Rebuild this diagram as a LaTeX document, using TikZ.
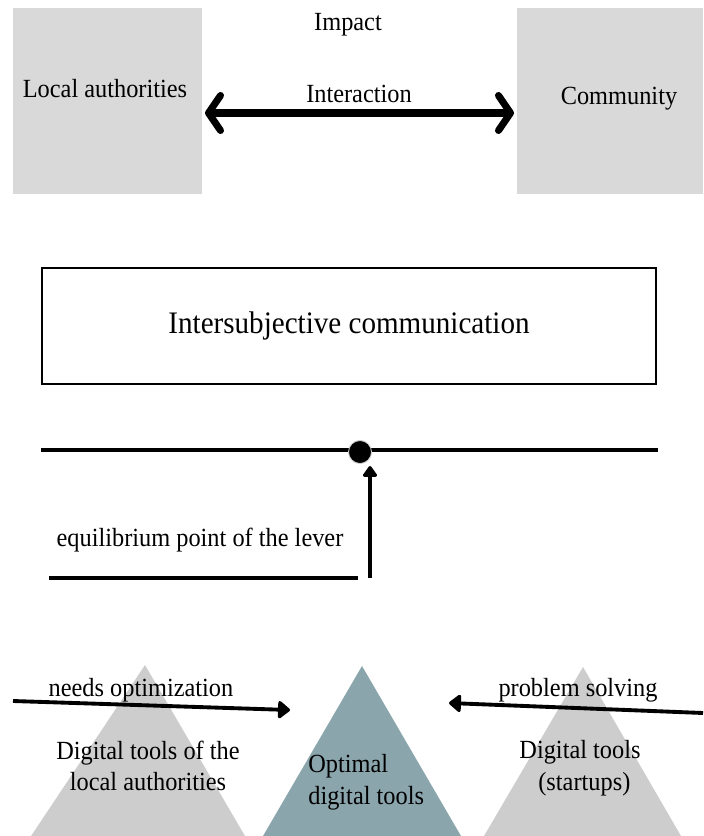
\documentclass[tikz,border=0pt]{standalone}
\usepackage{fontspec}
\setmainfont{Liberation Serif}
\newfontfamily\tmsfont[FakeStretch=0.93]{Liberation Serif}
\usetikzlibrary{arrows.meta}

\definecolor{boxgray}{RGB}{217,217,217}
\definecolor{trigray}{RGB}{205,205,205}
\definecolor{toolblue}{RGB}{139,165,173}

\tikzset{
	lbl/.style={font=\tmsfont\fontsize{14.9}{18}\selectfont, inner sep=0pt, align=center},
	actor/.style={fill=boxgray, draw=none, minimum width=3.78cm, minimum height=3.72cm, inner sep=0pt},
}

\begin{document}
\begin{tikzpicture}
	\useasboundingbox (0,0) rectangle (14.06,-16.72);
	% actors
	\node [actor] (auth) at (2.15,-2.02) {};
	\node [actor, minimum width=3.72cm] (comm) at (12.2,-2.02) {};
	\node [lbl] (authtxt) at (2.1,-1.78) {Local authorities};
	\node [lbl] (commtxt) at (12.38,-1.98) {Community};
	\node [lbl] (impact) at (6.96,-0.5) {Impact};
	\node [lbl] (inter) at (7.18,-1.88) {Interaction};
	\coordinate (ia) at (4.1,-2.26);
	\coordinate (ib) at (10.28,-2.26);
	\draw [line width=4pt, line cap=round, arrows={Straight Barb[round,length=2.4mm,width=7mm]-Straight Barb[round,length=2.4mm,width=7mm]}] (ia) -- (ib);
	% communication
	\node [draw, line width=1pt, minimum width=12.28cm, minimum height=2.32cm, inner sep=0pt] (isc) at (6.98,-6.52) {};
	\node [lbl, font=\tmsfont\fontsize{17.8}{21}\selectfont] (isctxt) at (isc.center) {Intersubjective communication};
	% lever
	\coordinate (la) at (0.82,-9.0);
	\coordinate (lb) at (13.16,-9.0);
	\draw [line width=2.4pt] (la) -- (lb);
	\node [circle, fill=black, draw=gray!40, line width=0.5pt, minimum size=0.46cm, inner sep=0pt] (pivot) at (7.2,-9.04) {};
	\coordinate (ga) at (0.98,-11.56);
	\coordinate (gb) at (7.16,-11.56);
	\draw [line width=2pt] (ga) -- (gb);
	\coordinate (up) at (7.4,-11.56);
	\draw [line width=2pt, arrows={-Triangle[round,length=2.4mm,width=3.2mm]}] (up) -- (7.4,-9.32);
	\node [lbl] (eq) at (4.0,-10.8) {equilibrium point of the lever};
	% tools
	\fill [trigray] (2.9,-13.3) -- (0.62,-16.72) -- (4.9,-16.72) -- cycle;
	\fill [toolblue] (7.24,-13.32) -- (5.26,-16.72) -- (9.22,-16.72) -- cycle;
	\fill [trigray] (11.66,-13.34) -- (9.68,-16.72) -- (13.62,-16.72) -- cycle;
	\node [lbl] (tla) at (2.96,-15.32) {Digital tools of the\\local authorities};
	\node [lbl, align=left, anchor=west] (opt) at (6.16,-15.64) {Optimal\\digital tools};
	\node [lbl] (tst) at (11.6,-15.36) {Digital tools\\\,\,(startups)};
	\coordinate (na) at (0.26,-14.02);
	\coordinate (nb) at (5.8,-14.2);
	\draw [line width=2.2pt, arrows={-Triangle[round,length=2.6mm,width=4mm]}] (na) -- (nb);
	\node [lbl] (needs) at (2.82,-13.8) {needs optimization};
	\coordinate (pa) at (14.06,-14.26);
	\coordinate (pb) at (8.98,-14.06);
	\draw [line width=2.2pt, arrows={-Triangle[round,length=2.6mm,width=4mm]}] (pa) -- (pb);
	\node [lbl] (solve) at (11.56,-13.8) {problem solving};
\end{tikzpicture}
\end{document}
